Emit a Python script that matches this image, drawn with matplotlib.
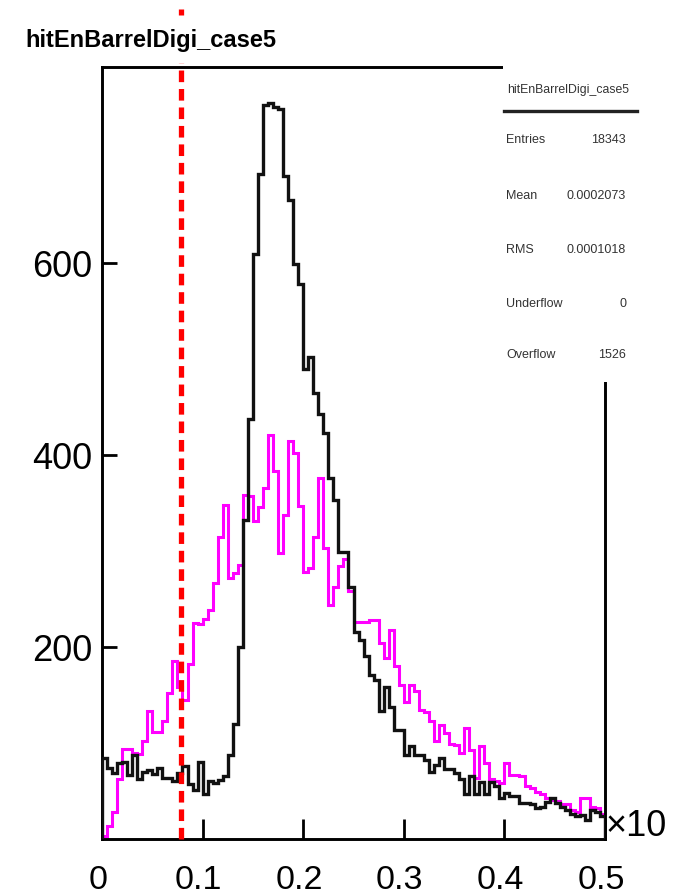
import numpy as np
import matplotlib
matplotlib.use('Agg')
import matplotlib.pyplot as plt
from matplotlib.patches import Rectangle
from matplotlib.lines import Line2D
from matplotlib.transforms import ScaledTranslation, blended_transform_factory

plt.rcParams['font.family'] = ['Liberation Sans', 'DejaVu Sans']

# ---------------- data ----------------
black_counts = [84, 74, 69, 79, 80, 67, 87, 63, 70, 72,
                68, 74, 64, 64, 60, 69, 76, 57, 51, 80,
                47, 60, 58, 61, 66, 87, 120, 200, 332, 437,
                609, 693, 764, 766, 762, 760, 690, 665, 599, 578,
                490, 502, 464, 443, 423, 376, 353, 299, 299, 262,
                216, 207, 191, 171, 166, 133, 158, 137, 113, 114,
                88, 97, 88, 87, 82, 70, 77, 84, 73, 73,
                69, 62, 47, 66, 47, 59, 47, 59, 55, 43,
                48, 45, 45, 38, 38, 36, 32, 33, 39, 43,
                38, 33, 30, 26, 24, 25, 20, 30, 28, 24]

magenta_counts = [3, 14, 28, 62, 94, 94, 90, 89, 102, 133,
                  111, 111, 123, 152, 185, 158, 145, 182, 225, 224,
                  229, 238, 267, 315, 348, 272, 277, 285, 358, 357,
                  331, 346, 366, 421, 383, 298, 337, 414, 402, 347,
                  278, 282, 315, 376, 303, 244, 262, 284, 292, 258,
                  226, 226, 226, 228, 228, 204, 189, 218, 180, 160,
                  143, 160, 154, 134, 132, 123, 102, 119, 110, 99,
                  98, 90, 116, 93, 64, 97, 79, 62, 60, 58,
                  79, 67, 67, 66, 55, 53, 49, 47, 43, 41,
                  40, 36, 36, 30, 28, 43, 43, 33, 32, 26]

x_range = (0.0, 0.5)
threshold = 0.079
x_ticks = [0, 0.1, 0.2, 0.3, 0.4, 0.5]
x_tick_labels = ["0", "0.1", "0.2", "0.3", "0.4", "0.5"]
y_ticks = [200, 400, 600]
y_tick_labels = ["200", "400", "600"]
y_max = 804
title = "hitEnBarrelDigi_case5"
stats_title = "hitEnBarrelDigi_case5"
stats_labels = ["Entries", "Mean", "RMS", "Underflow", "Overflow"]
stats_values = ["18343", "0.0002073", "0.0001018", "0", "1526"]
exponent_label = "\u00d710"

# ---------------- layout ----------------
W, H = 675, 895
fig = plt.figure(figsize=(W / 100, H / 100), dpi=100)


def fx(px):
    return px / W


def fy(py):
    return 1 - py / H


ax_l, ax_r, ax_t, ax_b = 102, 605, 68, 840
ax = fig.add_axes([fx(ax_l), fy(ax_b), fx(ax_r) - fx(ax_l), fy(ax_t) - fy(ax_b)])

edges = np.linspace(x_range[0], x_range[1], len(black_counts) + 1)
ax.stairs(magenta_counts, edges, color='#ff00ff', lw=2.2, zorder=2)
ax.stairs(black_counts, edges, color='#111111', lw=2.4, zorder=3)

ax.set_xlim(*x_range)
ax.set_ylim(0, y_max)

# red dashed threshold line (extends above the frame)
top_frac = (ax_b - 64) / (ax_b - ax_t)
ax.axvline(threshold, ymin=0, ymax=top_frac, color='#ff0000', lw=3.8,
           linestyle=(0, (2.2, 1.3)), clip_on=False, zorder=4)
# short visible piece above the title pave
blend = blended_transform_factory(ax.transData, fig.transFigure)
fig.add_artist(Line2D([threshold, threshold], [fy(16), fy(10)],
                      transform=blend, color='#ff0000', lw=3.8,
                      solid_capstyle='butt', zorder=4))

ax.set_xticks(x_ticks)
ax.set_xticklabels(x_tick_labels)
ax.set_yticks(y_ticks)
ax.set_yticklabels(y_tick_labels)
ax.tick_params(axis='x', direction='in', length=14.5, width=2.0, pad=18,
               labelsize=24.5, top=False)
ax.tick_params(axis='y', direction='in', length=11, width=2.0, pad=7,
               labelsize=26, right=False)
shift = ScaledTranslation(-4 / 100, 0, fig.dpi_scale_trans)
for lbl in ax.get_xticklabels():
    lbl.set_transform(lbl.get_transform() + shift)
for s in ax.spines.values():
    s.set_linewidth(2.1)
ax.minorticks_off()

# title
fig.text(fx(25), fy(40), title, fontsize=17, fontweight='bold',
         ha='left', va='center', zorder=12)

# exponent label
fig.text(fx(606), fy(827), exponent_label, fontsize=26, ha='left', va='center')

# stats box (white, covers frame corner)
box_l, box_r, box_t, box_b = 503, 640, 58, 383
fig.add_artist(Rectangle((fx(box_l), fy(box_b)), fx(box_r) - fx(box_l),
                         fy(box_t) - fy(box_b), transform=fig.transFigure,
                         facecolor='white', edgecolor='none', zorder=10))
fig.add_artist(Line2D([fx(504), fx(637)], [fy(112), fy(112)],
                      transform=fig.transFigure, color='#222222', lw=2.4,
                      zorder=11))
fig.text(fx(568), fy(90), stats_title, fontsize=8.8, color='#333333',
         ha='center', va='center', zorder=12)
row_y = [140, 196, 250, 304, 355]
for lab, val, yy in zip(stats_labels, stats_values, row_y):
    fig.text(fx(506), fy(yy), lab, fontsize=9.0, color='#333333',
             ha='left', va='center', zorder=12)
    fig.text(fx(626), fy(yy), val, fontsize=9.0, color='#333333',
             ha='right', va='center', zorder=12)

fig.savefig('out.png', dpi=100)
